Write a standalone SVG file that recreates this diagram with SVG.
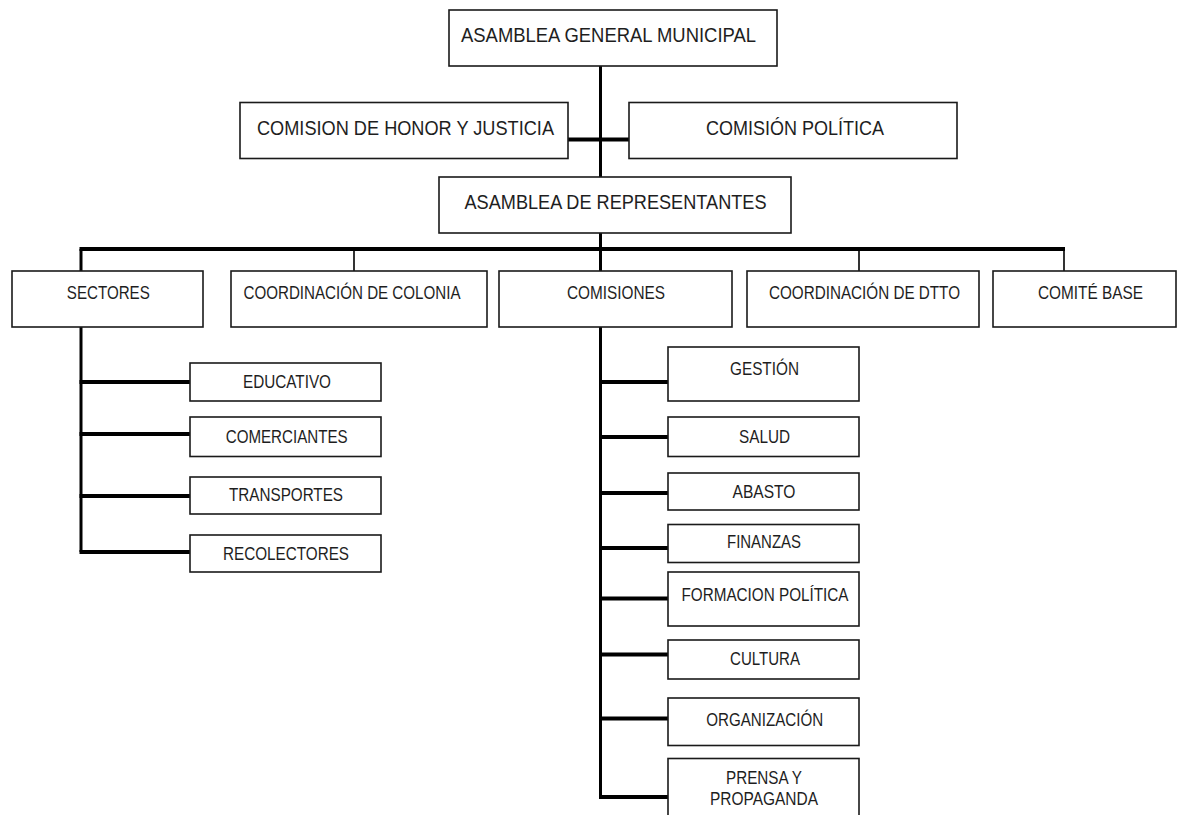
<svg xmlns="http://www.w3.org/2000/svg" width="1177" height="815" viewBox="0 0 1177 815">
<style>
.box{fill:#fff;stroke:#1a1a1a;stroke-width:1.6}
.t{font-family:"Liberation Sans",Arial,sans-serif;fill:#1e1e1e;text-anchor:middle}
.big{font-size:21px}
.sm{font-size:18px}
.thick{stroke:#000;stroke-width:4;fill:none}
.mid{stroke:#000;stroke-width:3;fill:none}
.thin{stroke:#000;stroke-width:1.6;fill:none}
</style>
<rect width="1177" height="815" fill="#fff"/>
<g id="connectors">
<line class="mid" x1="600.5" y1="66" x2="600.5" y2="271"/>
<line class="thick" x1="568" y1="139.5" x2="629" y2="139.5"/>
<line class="thick" x1="79.5" y1="249" x2="1065" y2="249"/>
<line class="mid" x1="81" y1="249" x2="81" y2="271"/>
<line class="thin" x1="354" y1="249" x2="354" y2="271"/>
<line class="thin" x1="859" y1="249" x2="859" y2="271"/>
<line class="thin" x1="1064" y1="249" x2="1064" y2="271"/>
<polyline class="mid" points="81,327 81,552"/>
<line class="thick" x1="79.5" y1="382" x2="190" y2="382"/>
<line class="thick" x1="79.5" y1="434" x2="190" y2="434"/>
<line class="thick" x1="79.5" y1="496" x2="190" y2="496"/>
<line class="thick" x1="79.5" y1="552" x2="190" y2="552"/>
<polyline class="mid" points="600.5,327 600.5,797"/>
<line class="thick" x1="599" y1="382" x2="668" y2="382"/>
<line class="thick" x1="599" y1="437" x2="668" y2="437"/>
<line class="thick" x1="599" y1="493" x2="668" y2="493"/>
<line class="thick" x1="599" y1="548" x2="668" y2="548"/>
<line class="thick" x1="599" y1="598.5" x2="668" y2="598.5"/>
<line class="thick" x1="599" y1="654.5" x2="668" y2="654.5"/>
<line class="thick" x1="599" y1="718.5" x2="668" y2="718.5"/>
<line class="thick" x1="599" y1="797" x2="668" y2="797"/>
</g>
<g id="asamblea-general"><rect class="box" x="449" y="10" width="328" height="56"/><text class="t big" x="608.5" y="42" textLength="295" lengthAdjust="spacingAndGlyphs">ASAMBLEA GENERAL  MUNICIPAL</text></g>
<g id="comision-honor"><rect class="box" x="240" y="102.5" width="328" height="56"/><text class="t big" x="405.5" y="135" textLength="297" lengthAdjust="spacingAndGlyphs">COMISION DE HONOR Y JUSTICIA</text></g>
<g id="comision-politica"><rect class="box" x="629" y="102.5" width="328" height="56"/><text class="t big" x="795" y="135" textLength="178" lengthAdjust="spacingAndGlyphs">COMISIÓN POLÍTICA</text></g>
<g id="asamblea-representantes"><rect class="box" x="439" y="177" width="352" height="56"/><text class="t big" x="615.5" y="209" textLength="302" lengthAdjust="spacingAndGlyphs">ASAMBLEA DE REPRESENTANTES</text></g>
<g id="sectores"><rect class="box" x="12" y="271" width="191" height="56"/><text class="t sm" x="108.3" y="298.5" textLength="83" lengthAdjust="spacingAndGlyphs">SECTORES</text></g>
<g id="coord-colonia"><rect class="box" x="231" y="271" width="256" height="56"/><text class="t sm" x="352" y="298.5" textLength="217" lengthAdjust="spacingAndGlyphs">COORDINACIÓN DE COLONIA</text></g>
<g id="comisiones"><rect class="box" x="499" y="271" width="233" height="56"/><text class="t sm" x="616" y="298.5" textLength="98" lengthAdjust="spacingAndGlyphs">COMISIONES</text></g>
<g id="coord-dtto"><rect class="box" x="747" y="271" width="232" height="56"/><text class="t sm" x="864.5" y="298.5" textLength="191" lengthAdjust="spacingAndGlyphs">COORDINACIÓN DE DTTO</text></g>
<g id="comite-base"><rect class="box" x="993" y="271" width="183" height="56"/><text class="t sm" x="1090.5" y="298.5" textLength="105" lengthAdjust="spacingAndGlyphs">COMITÉ BASE</text></g>
<g id="educativo"><rect class="box" x="190" y="363" width="191" height="38"/><text class="t sm" x="287" y="387.5" textLength="88" lengthAdjust="spacingAndGlyphs">EDUCATIVO</text></g>
<g id="comerciantes"><rect class="box" x="190" y="417" width="191" height="39.5"/><text class="t sm" x="286.7" y="442.5" textLength="122" lengthAdjust="spacingAndGlyphs">COMERCIANTES</text></g>
<g id="transportes"><rect class="box" x="190" y="477" width="191" height="37"/><text class="t sm" x="286" y="501" textLength="114" lengthAdjust="spacingAndGlyphs">TRANSPORTES</text></g>
<g id="recolectores"><rect class="box" x="190" y="535" width="191" height="37"/><text class="t sm" x="286" y="559.5" textLength="126" lengthAdjust="spacingAndGlyphs">RECOLECTORES</text></g>
<g id="gestion"><rect class="box" x="668" y="347" width="191" height="54"/><text class="t sm" x="764.5" y="374.5" textLength="69" lengthAdjust="spacingAndGlyphs">GESTIÓN</text></g>
<g id="salud"><rect class="box" x="668" y="417" width="191" height="39.5"/><text class="t sm" x="764.5" y="442.5" textLength="51" lengthAdjust="spacingAndGlyphs">SALUD</text></g>
<g id="abasto"><rect class="box" x="668" y="473" width="191" height="37"/><text class="t sm" x="764" y="497.5" textLength="63" lengthAdjust="spacingAndGlyphs">ABASTO</text></g>
<g id="finanzas"><rect class="box" x="668" y="524.5" width="191" height="38"/><text class="t sm" x="764" y="547.5" textLength="74" lengthAdjust="spacingAndGlyphs">FINANZAS</text></g>
<g id="formacion-politica"><rect class="box" x="668" y="572" width="191" height="54"/><text class="t sm" x="765" y="600.5" textLength="167" lengthAdjust="spacingAndGlyphs">FORMACION POLÍTICA</text></g>
<g id="cultura"><rect class="box" x="668" y="640" width="191" height="39"/><text class="t sm" x="765" y="664.5" textLength="70" lengthAdjust="spacingAndGlyphs">CULTURA</text></g>
<g id="organizacion"><rect class="box" x="668" y="698" width="191" height="47.5"/><text class="t sm" x="764.7" y="726" textLength="117" lengthAdjust="spacingAndGlyphs">ORGANIZACIÓN</text></g>
<g id="prensa"><rect class="box" x="668" y="758.5" width="191" height="70"/><text class="t sm" x="764" y="783.5" textLength="76" lengthAdjust="spacingAndGlyphs">PRENSA Y</text><text class="t sm" x="764" y="804.5" textLength="108" lengthAdjust="spacingAndGlyphs">PROPAGANDA</text></g>
</svg>
